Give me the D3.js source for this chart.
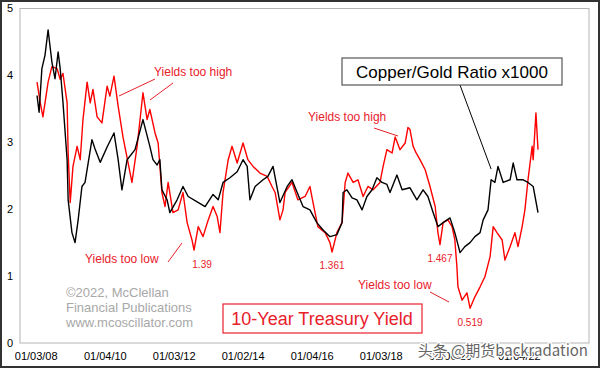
<!DOCTYPE html>
<html>
<head>
<meta charset="utf-8">
<script src="https://cdn.jsdelivr.net/npm/d3@7"></script>
<style>
html,body{margin:0;padding:0;background:#fff;}
svg{display:block;font-family:"Liberation Sans",Arial,sans-serif;}
</style>
</head>
<body>
<svg id="chart" width="600" height="368"></svg>
<script>
// ---- data (decimal years, values) ----
const copperGoldDates = [2008.03,2008.09,2008.17,2008.26,2008.35,2008.46,2008.55,2008.64,2008.70,2008.78,2008.90,2008.93,2009.04,2009.13,2009.22,2009.33,2009.42,2009.62,2009.71,2009.86,2010.06,2010.26,2010.38,2010.49,2010.64,2010.87,2011.10,2011.30,2011.39,2011.51,2011.59,2011.65,2011.80,2011.88,2012.09,2012.26,2012.41,2012.67,2012.90,2013.13,2013.28,2013.42,2013.62,2013.83,2014.00,2014.12,2014.20,2014.35,2014.58,2014.72,2014.87,2015.07,2015.28,2015.42,2015.57,2015.74,2015.94,2016.14,2016.32,2016.52,2016.72,2016.87,2016.90,2017.01,2017.16,2017.30,2017.45,2017.59,2017.74,2017.88,2018.03,2018.17,2018.26,2018.46,2018.61,2018.84,2019.04,2019.22,2019.36,2019.51,2019.65,2019.80,2020.00,2020.14,2020.29,2020.43,2020.58,2020.72,2020.87,2020.96,2021.10,2021.19,2021.30,2021.39,2021.54,2021.74,2021.83,2021.94,2022.12,2022.26,2022.41,2022.55];
const copperGoldValues = [3.70,3.45,4.10,4.30,4.68,4.20,3.95,4.35,4.10,3.60,2.74,2.14,1.65,1.50,1.84,2.34,2.40,3.04,2.90,2.70,2.93,3.14,2.74,2.29,2.74,2.89,3.34,2.94,2.74,2.66,2.74,2.29,2.14,1.95,2.14,2.34,2.19,2.11,2.04,2.22,2.14,2.40,2.47,2.56,2.74,2.64,2.14,2.34,2.44,2.49,2.64,2.10,2.34,2.44,2.25,2.04,1.99,1.80,1.69,1.59,1.62,1.80,2.25,2.29,2.17,2.14,1.99,2.19,2.29,2.47,2.40,2.37,2.25,2.51,2.29,2.32,2.14,2.29,2.19,1.95,1.74,1.80,1.87,1.65,1.35,1.44,1.50,1.59,1.65,1.84,1.99,2.44,2.40,2.64,2.40,2.44,2.69,2.44,2.44,2.40,2.34,1.95];

const yieldDates = [2008.03,2008.12,2008.20,2008.35,2008.46,2008.61,2008.70,2008.78,2008.90,2008.93,2008.99,2009.07,2009.19,2009.28,2009.36,2009.48,2009.57,2009.65,2009.77,2009.91,2010.06,2010.14,2010.26,2010.38,2010.52,2010.67,2010.78,2010.93,2011.10,2011.22,2011.30,2011.45,2011.54,2011.65,2011.74,2011.83,2011.97,2012.12,2012.26,2012.38,2012.52,2012.58,2012.70,2012.84,2012.99,2013.13,2013.25,2013.33,2013.42,2013.57,2013.68,2013.83,2014.00,2014.14,2014.29,2014.49,2014.70,2014.84,2014.93,2015.07,2015.16,2015.22,2015.42,2015.59,2015.80,2015.94,2016.03,2016.17,2016.38,2016.52,2016.58,2016.72,2016.87,2016.96,2017.04,2017.19,2017.33,2017.48,2017.62,2017.77,2017.97,2018.06,2018.17,2018.32,2018.41,2018.55,2018.70,2018.78,2018.84,2018.93,2019.01,2019.13,2019.28,2019.42,2019.57,2019.65,2019.71,2019.80,2019.94,2020.06,2020.14,2020.20,2020.23,2020.35,2020.49,2020.58,2020.72,2020.87,2021.01,2021.16,2021.25,2021.36,2021.51,2021.59,2021.74,2021.88,2021.97,2022.09,2022.17,2022.26,2022.38,2022.41,2022.49,2022.55];
const yieldValues = [3.90,3.60,3.38,3.90,4.13,4.10,3.94,4.03,3.59,2.84,2.10,2.64,2.94,2.74,3.34,3.90,3.59,3.79,3.38,3.29,3.84,3.69,3.99,3.54,3.08,2.69,2.40,2.94,3.74,3.34,3.49,3.14,2.99,2.25,2.04,2.40,1.95,1.99,2.25,1.80,1.54,1.39,1.74,1.59,1.84,2.04,1.89,1.65,2.25,2.74,2.94,2.69,2.99,2.74,2.64,2.54,2.49,2.34,2.25,1.84,1.99,2.25,2.40,2.14,2.19,2.34,2.10,1.74,1.65,1.50,1.36,1.65,1.80,2.40,2.54,2.40,2.44,2.19,2.34,2.29,2.40,2.64,2.89,2.84,3.08,2.89,2.99,3.22,3.19,2.94,2.85,2.74,2.59,2.34,2.04,1.65,1.47,1.80,1.84,1.74,1.54,1.14,0.84,0.64,0.75,0.52,0.69,0.84,0.99,1.29,1.74,1.65,1.54,1.24,1.44,1.65,1.44,1.74,1.99,2.44,2.94,2.74,3.44,2.89];

const yTicks = [0,1,2,3,4,5];
const xTickDates = ["2008-01-03","2010-01-04","2012-01-03","2014-01-02","2016-01-04","2018-01-03","2020-01-06","2022-01-04"];
const xTickLabels = ["01/03/08","01/04/10","01/03/12","01/02/14","01/04/16","01/03/18","01/06/20","01/04/22"];
const lowLabels = [{t:2012.58,v:1.39,txt:"1.39"},{t:2016.58,v:1.361,txt:"1.361"},{t:2019.71,v:1.467,txt:"1.467"},{t:2020.58,v:0.519,txt:"0.519"}];

// ---- helpers ----
function decYear(yv){
  const yr = Math.floor(yv), f = yv - yr;
  const a = Date.UTC(yr,0,1), b = Date.UTC(yr+1,0,1);
  return new Date(a + f*(b-a));
}
const parse = d3.utcParse("%Y-%m-%d");

const svg = d3.select("#chart");
const W = 600, H = 368;
const pL = 20, pR = 589, pT = 8.5, pB = 343;

const x = d3.scaleUtc().domain([decYear(2007.536), decYear(2024.029)]).range([pL, pR]);
const y = d3.scaleLinear().domain([0,5]).range([pB, pT]);

// outer frame
svg.append("rect").attr("x",1).attr("y",1).attr("width",W-2).attr("height",H-2)
  .attr("fill","#fff").attr("stroke","#333").attr("stroke-width",2);

// plot frame
svg.append("rect").attr("x",pL).attr("y",pT).attr("width",pR-pL).attr("height",pB-pT)
  .attr("fill","none").attr("stroke","#b4b4b4").attr("stroke-width",1);

// y axis labels
svg.append("g").selectAll("text").data(yTicks).join("text")
  .attr("x",10).attr("y",d=>y(d)).attr("dy","0.35em").attr("text-anchor","middle")
  .attr("font-size",11).attr("fill","#000").text(d=>d);

// x axis labels
svg.append("g").selectAll("text").data(xTickDates).join("text")
  .attr("x",d=>x(parse(d))).attr("y",356).attr("dy","0.35em").attr("text-anchor","middle")
  .attr("font-size",11).attr("fill","#000").text((d,i)=>xTickLabels[i]);

// copyright
const cr = svg.append("g").attr("fill","#a8a8a8").attr("font-size",13);
["©2022, McClellan","Financial Publications","www.mcoscillator.com"].forEach((t,i)=>{
  cr.append("text").attr("x",66).attr("y",292+i*15).attr("dy","0.35em").text(t);
});

// lines
const cgData = copperGoldDates.map((t,i)=>({d:decYear(t),v:copperGoldValues[i]}));
const ylData = yieldDates.map((t,i)=>({d:decYear(t),v:yieldValues[i]}));
const line = d3.line().x(d=>x(d.d)).y(d=>y(d.v));

svg.append("path").datum(ylData).attr("d",line).attr("fill","none")
  .attr("stroke","#ff0000").attr("stroke-width",1.4).attr("stroke-linejoin","round");
svg.append("path").datum(cgData).attr("d",line).attr("fill","none")
  .attr("stroke","#000").attr("stroke-width",1.4).attr("stroke-linejoin","round");

// annotations
const red = "#e8202a";
const ann = svg.append("g").attr("fill",red).attr("font-size",12);
ann.append("text").attr("x",154).attr("y",72).attr("dy","0.35em").text("Yields too high");
ann.append("text").attr("x",308).attr("y",117).attr("dy","0.35em").text("Yields too high");
ann.append("text").attr("x",85).attr("y",259).attr("dy","0.35em").text("Yields too low");
ann.append("text").attr("x",358).attr("y",285).attr("dy","0.35em").text("Yields too low");

const leaders = [[155,79,119,96],[173,83,150,100],[374,128,398,136],[168,262,182,243],[430,292,449,302]];
svg.append("g").selectAll("line").data(leaders).join("line")
  .attr("x1",d=>d[0]).attr("y1",d=>d[1]).attr("x2",d=>d[2]).attr("y2",d=>d[3])
  .attr("stroke",red).attr("stroke-width",1);

svg.append("g").selectAll("text").data(lowLabels).join("text")
  .attr("x",d=>x(decYear(d.t))+ (d.txt==="1.39"?8:0)).attr("y",d=>y(d.v)+14)
  .attr("dy","0.35em").attr("text-anchor","middle").attr("font-size",10).attr("fill",red).text(d=>d.txt);

// Copper/Gold box
svg.append("line").attr("x1",460).attr("y1",85).attr("x2",x(decYear(2021.19))).attr("y2",y(2.6))
  .attr("stroke","#000").attr("stroke-width",1);
svg.append("rect").attr("x",342).attr("y",58).attr("width",220).attr("height",27)
  .attr("fill","#fff").attr("stroke","#555").attr("stroke-width",1.2);
svg.append("text").attr("x",452).attr("y",72).attr("dy","0.35em").attr("text-anchor","middle")
  .attr("font-size",17).attr("fill","#000").text("Copper/Gold Ratio x1000");

// Treasury box
svg.append("rect").attr("x",223).attr("y",304).attr("width",199).attr("height",29)
  .attr("fill","#fff").attr("stroke",red).attr("stroke-width",1.2);
svg.append("text").attr("x",322).attr("y",319).attr("dy","0.35em").attr("text-anchor","middle")
  .attr("font-size",18).attr("fill",red).text("10-Year Treasury Yield");

// watermark
svg.append("text").attr("x",588).attr("y",351).attr("dy","0.35em").attr("text-anchor","end")
  .attr("font-size",15).attr("fill","#666").attr("stroke","#fff").attr("stroke-width",2.5)
  .attr("paint-order","stroke").attr("font-family","'Noto Sans CJK SC','Liberation Sans',sans-serif")
  .text("头条 @期货backradation");
</script>
</body>
</html>
